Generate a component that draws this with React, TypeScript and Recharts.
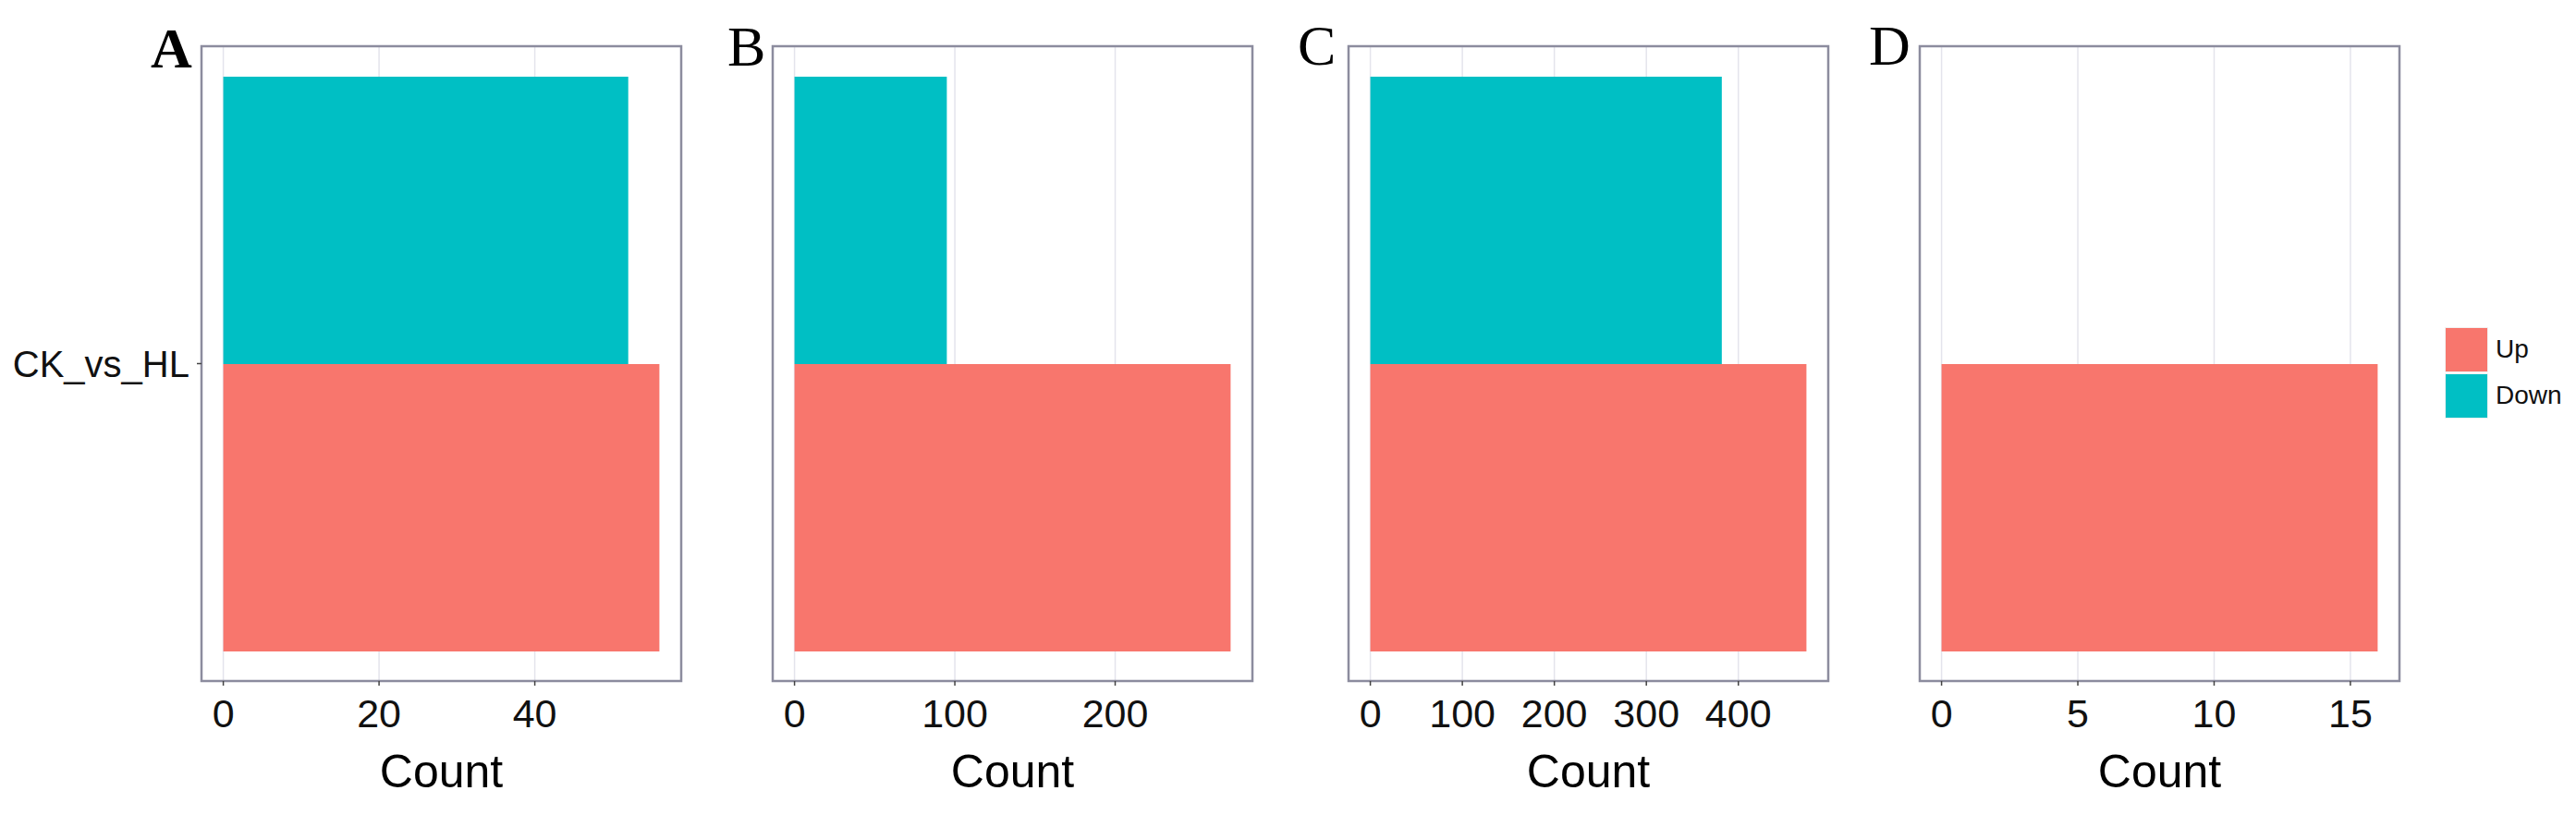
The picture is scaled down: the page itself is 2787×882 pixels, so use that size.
import React from 'react';
import { BarChart, Bar, XAxis, YAxis, CartesianGrid, ReferenceArea } from 'recharts';

// one comparison, four panels (A-D), Up / Down counts
const comparisons = ['CK_vs_HL'];
const panelLabels = ['A', 'B', 'C', 'D'];
const upCounts = [56, 272, 474, 16];
const downCounts = [52, 95, 382, 0];
const majorTicks = [
  [0, 20, 40],
  [0, 100, 200],
  [0, 100, 200, 300, 400],
  [0, 5, 10, 15],
];
const minorTicks = [
  [10, 30, 50],
  [50, 150, 250],
  [50, 150, 250, 350, 450],
  [2.5, 7.5, 12.5],
];
const legendOrder = ['Up', 'Down'];
const seriesColors: Record<string, string> = { Up: '#F8766D', Down: '#00BFC4' };

const FONT = '"Liberation Sans", Arial, sans-serif';
const SERIF = '"Liberation Serif", "Times New Roman", serif';
const FRAME = '#8c8c9e';

// plot-area layout (px)
const plotLeft = [218, 836, 1459, 2077];
const plotWidth = 519;
const plotTop = 50;
const chartHeight = 882;
const axisHeight = 145;
const letterPos = [
  { x: 163, y: 73, bold: true },
  { x: 787, y: 71, bold: false },
  { x: 1404, y: 70, bold: false },
  { x: 2022, y: 70, bold: false },
];

const gridGen = (values: number[]) => (props: any) => {
  try {
    return values.map((v) => props.xAxis.scale(v));
  } catch {
    return [];
  }
};

const Panel: React.FC<{ i: number }> = ({ i }) => {
  const data = comparisons.map((name) => ({ name, Up: upCounts[i], Down: downCounts[i] }));
  const max = Math.max(upCounts[i], downCounts[i]);
  const domain: [number, number] = [-0.05 * max, 1.05 * max];
  const showY = i === 0;
  const leftPad = showY ? plotLeft[0] : 30;
  const rightPad = 40;
  const width = leftPad + plotWidth + rightPad;

  return (
    <div style={{ position: 'absolute', left: plotLeft[i] - leftPad, top: 0 }}>
      <BarChart
        layout="vertical"
        width={width}
        height={chartHeight}
        data={data}
        margin={{ top: plotTop, right: rightPad, bottom: 0, left: showY ? 0 : leftPad }}
        barCategoryGap="4.8%"
        barGap={0}
      >
        <CartesianGrid
          horizontal={false}
          stroke="#eeeef4"
          strokeWidth={1.5}
          verticalCoordinatesGenerator={gridGen(minorTicks[i])}
        />
        <CartesianGrid horizontal={false} stroke="#e4e4ec" strokeWidth={1.5} />
        <XAxis
          type="number"
          domain={domain}
          ticks={majorTicks[i]}
          interval={0}
          height={axisHeight}
          axisLine={false}
          tickLine={{ stroke: '#444', strokeWidth: 1.5 }}
          tickSize={5}
          tickMargin={14}
          tick={{ fill: '#111', fontSize: 43, fontFamily: FONT }}
          label={{ value: 'Count', position: 'insideBottom', offset: 30, fill: '#000', fontSize: 50, fontFamily: FONT }}
        />
        {showY ? (
          <YAxis
            type="category"
            dataKey="name"
            width={plotLeft[0]}
            axisLine={false}
            tickLine={{ stroke: '#444', strokeWidth: 1.5 }}
            tickSize={5}
            tickMargin={8}
            tick={{ fill: '#111', fontSize: 40, fontFamily: FONT }}
          />
        ) : (
          <YAxis type="category" dataKey="name" hide />
        )}
        <Bar dataKey="Down" fill={seriesColors.Down} isAnimationActive={false} />
        <Bar dataKey="Up" fill={seriesColors.Up} isAnimationActive={false} />
        <ReferenceArea
          x1={domain[0]}
          x2={domain[1]}
          fill="none"
          stroke={FRAME}
          strokeWidth={2.5}
          ifOverflow="visible"
        />
      </BarChart>
    </div>
  );
};

export default function App() {
  return (
    <div style={{ position: 'absolute', left: 0, top: 0, width: 2787, height: 882, background: '#fff', overflow: 'hidden' }}>
      {panelLabels.map((_, i) => (
        <Panel key={i} i={i} />
      ))}
      <svg width={2787} height={882} style={{ position: 'absolute', left: 0, top: 0, pointerEvents: 'none' }}>
        {panelLabels.map((lab, i) => (
          <text
            key={lab}
            x={letterPos[i].x}
            y={letterPos[i].y}
            fontFamily={SERIF}
            fontSize={62}
            fontWeight={letterPos[i].bold ? 'bold' : 'normal'}
            fill="#000"
          >
            {lab}
          </text>
        ))}
      </svg>
      <div style={{ position: 'absolute', left: 2645, top: 353 }}>
        {legendOrder.map((name) => (
          <div key={name} style={{ display: 'flex', alignItems: 'center', height: 50 }}>
            <div
              style={{
                width: 45,
                height: 47,
                background: seriesColors[name],
                border: '1.5px solid #f2f2f2',
              }}
            />
            <span style={{ marginLeft: 8, fontFamily: FONT, fontSize: 28, color: '#111' }}>{name}</span>
          </div>
        ))}
      </div>
    </div>
  );
}
